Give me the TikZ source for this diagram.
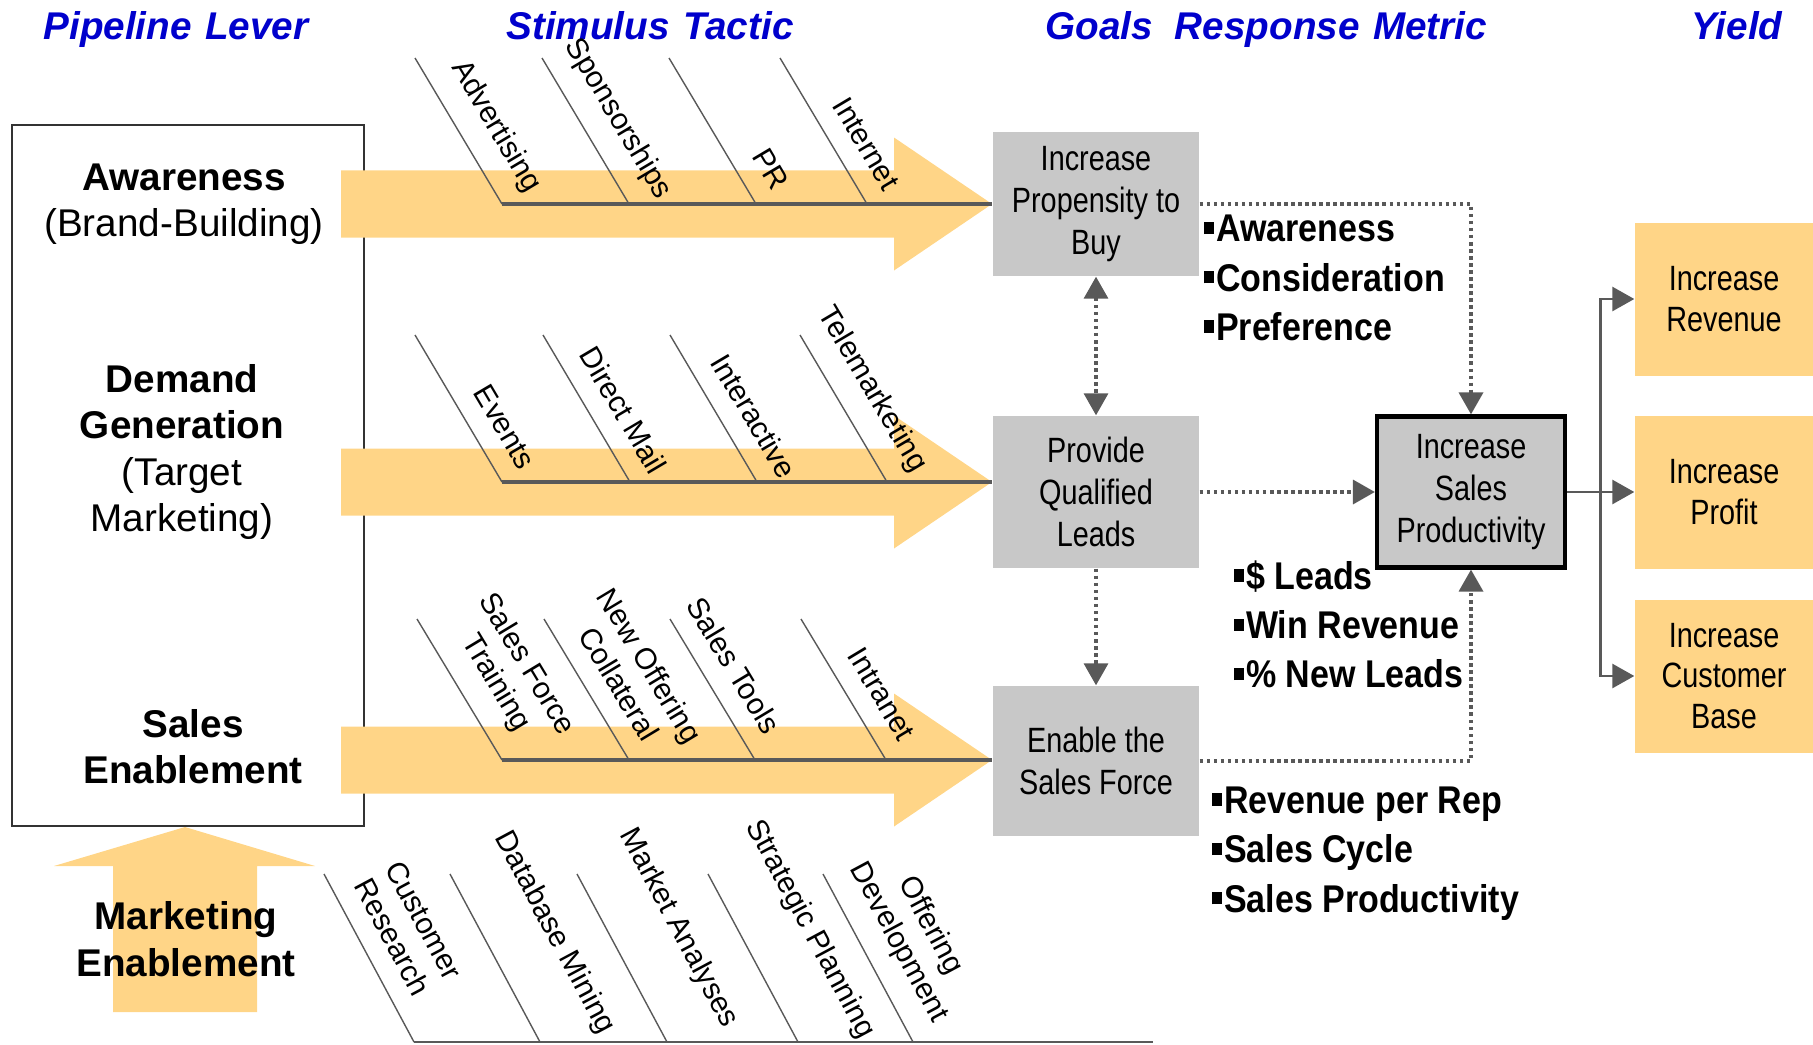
\documentclass[tikz,border=0pt]{standalone}
\usepackage{fontspec}
\setmainfont{Liberation Sans}
\newfontfamily\narrowfont[FakeStretch=0.82]{Liberation Sans}
\newfontfamily\metricfont[FakeStretch=0.88]{Liberation Sans}
\usetikzlibrary{arrows.meta, calc, positioning}

\definecolor{leverorange}{HTML}{FFD587}
\definecolor{goalgray}{HTML}{C8C8C8}
\definecolor{linkgray}{HTML}{595959}
\definecolor{headblue}{HTML}{0000CC}
\newcommand{\sqbul}{\rule[0.2em]{0.26em}{0.32em}\kern0.06em}

\begin{document}
\begin{tikzpicture}[on grid, >={Triangle[length=2.2mm, width=2.4mm]},
  colhead/.style={anchor=base, text=headblue, font=\bfseries\itshape\fontsize{11}{13}\selectfont},
  lever/.style={align=center, font=\fontsize{11}{13.2}\selectfont},
  goal/.style={fill=goalgray, inner sep=0pt, minimum width=2.06cm, minimum height=1.5cm, align=center, font=\narrowfont\fontsize{10}{12}\selectfont},
  yieldbox/.style={fill=leverorange, inner sep=0pt, minimum width=1.78cm, minimum height=1.53cm, align=center, font=\narrowfont\fontsize{10}{11.5}\selectfont},
  metric/.style={anchor=west, inner sep=0pt, align=left, font=\metricfont\bfseries\fontsize{11}{14}\selectfont},
  tactic/.style={sloped, anchor=south west, inner xsep=1pt, inner ysep=5.5pt, align=center, font=\fontsize{8.5}{10.2}\selectfont},
  raised/.style={inner ysep=14pt},
  bone/.style={draw=black!65, line width=0.4pt},
  spine/.style={draw=linkgray, line width=0.9pt},
  lever arrow/.style={fill=leverorange},
  link/.style={draw=linkgray, line width=1pt, dash pattern=on 1pt off 1pt},
  feed/.style={draw=linkgray, line width=0.8pt}
]
  \useasboundingbox (0,0) rectangle (18.13,10.44);

  \node[colhead] (h1) at (1.76,10.04) {Pipeline\hspace{0.35em}Lever};
  \node[colhead] (h2) at (6.50,10.04) {Stimulus\hspace{0.35em}Tactic};
  \node[colhead] (h3) at (10.99,10.04) {Goals};
  \node[colhead] (h4) at (13.31,10.04) {Response\hspace{0.35em}Metric};
  \node[colhead] (h5) at (17.37,10.04) {Yield};

  \node[draw=black!80, line width=0.6pt, inner sep=0pt, minimum width=3.52cm, minimum height=7.01cm] (lbox) at (1.88,5.685) {};
  \node[lever] (aw) at (1.84,8.40) {\textbf{Awareness}\\(Brand-Building)};
  \node[lever] (dg) at (1.82,5.92) {\textbf{Demand}\\\textbf{Generation}\\(Target\\Marketing)};
  \node[lever] (se) at (1.93,2.975) {\textbf{Sales}\\\textbf{Enablement}};

  \node[goal, minimum height=1.44cm] (g1) at (10.96,8.40) {Increase\\Propensity to\\Buy};
  \node[goal, minimum height=1.52cm] (g2) [below=2.88cm of g1] {Provide\\Qualified\\Leads};
  \node[goal] (g3) [below=2.69cm of g2] {Enable the\\Sales Force};
  \node[goal, draw=black, line width=1.2pt, minimum width=1.88cm, minimum height=1.51cm] (sp) [right=3.75cm of g2] {Increase\\Sales\\Productivity};
  \node[yieldbox] (y2) [right=2.53cm of sp] {Increase\\Profit};
  \node[yieldbox] (y1) [above=1.93cm of y2] {Increase\\Revenue};
  \node[yieldbox] (y3) [below=1.84cm of y2] {Increase\\Customer\\Base};

  \fill[lever arrow, yshift=8.40cm] (3.41,-0.335) -| (8.94,-0.665) -- (9.92,0) -- (8.94,0.665) |- (3.41,0.335) -- cycle;
  \fill[lever arrow, yshift=5.62cm] (3.41,-0.335) -| (8.94,-0.665) -- (9.92,0) -- (8.94,0.665) |- (3.41,0.335) -- cycle;
  \fill[lever arrow, yshift=2.84cm] (3.41,-0.335) -| (8.94,-0.665) -- (9.92,0) -- (8.94,0.665) |- (3.41,0.335) -- cycle;
  \fill[lever arrow] (1.13,0.32) -- (1.13,1.78) -- (0.54,1.78) -- (1.85,2.17) -- (3.15,1.78) -- (2.57,1.78) -- (2.57,0.32) -- cycle;
  \node[lever] (me) at (1.86,1.05) {\textbf{Marketing}\\\textbf{Enablement}};

  \path (5.02,8.40) coordinate (a1) (6.29,8.40) coordinate (a2) (7.56,8.40) coordinate (a3) (8.67,8.40) coordinate (a4);
  \path (5.02,5.62) coordinate (b1) (6.30,5.62) coordinate (b2) (7.57,5.62) coordinate (b3) (8.87,5.62) coordinate (b4);
  \path (5.02,2.84) coordinate (c1) (6.29,2.84) coordinate (c2) (7.55,2.84) coordinate (c3) (8.86,2.84) coordinate (c4);
  \path (4.14,0.02) coordinate (d1) (5.40,0.02) coordinate (d2) (6.67,0.02) coordinate (d3) (7.98,0.02) coordinate (d4) (9.13,0.02) coordinate (d5);

  \draw[spine] (a1) -- (a1 -| g1.west);
  \draw[spine] (b1) -- (b1 -| g2.west);
  \draw[spine] (c1) -- (c1 -| g3.west);
  \draw[spine, line width=0.7pt] (d1) -- (11.53,0.02) coordinate (dend);

  \draw[bone] (a1) ++(-0.87,1.46) -- (a1) node[tactic, pos=0.13] (t-adv) {Advertising};
  \draw[bone] (a2) ++(-0.87,1.46) -- (a2) node[tactic, pos=-0.02] (t-spo) {Sponsorships};
  \draw[bone] (a3) ++(-0.87,1.46) -- (a3) node[tactic, pos=0.72] (t-pr) {PR};
  \draw[bone] (a4) ++(-0.87,1.46) -- (a4) node[tactic, pos=0.37] (t-int) {Internet};

  \draw[bone] (b1) ++(-0.87,1.47) -- (b1) node[tactic, pos=0.44] (t-evt) {Events};
  \draw[bone] (b2) ++(-0.87,1.47) -- (b2) node[tactic, pos=0.18] (t-dm) {Direct Mail};
  \draw[bone] (b3) ++(-0.87,1.47) -- (b3) node[tactic, pos=0.23] (t-ia) {Interactive};
  \draw[bone] (b4) ++(-0.87,1.47) -- (b4) node[tactic, pos=-0.08] (t-tm) {Telemarketing};

  \draw[bone] (c1) ++(-0.85,1.41) -- (c1) node[tactic, pos=0.07] (t-sft) {Sales Force\\Training};
  \draw[bone] (c2) ++(-0.85,1.41) -- (c2) node[tactic, pos=0.02] (t-noc) {New Offering\\Collateral};
  \draw[bone] (c3) ++(-0.85,1.41) -- (c3) node[tactic, pos=-0.05] (t-st) {Sales Tools};
  \draw[bone] (c4) ++(-0.85,1.41) -- (c4) node[tactic, pos=0.31] (t-ina) {Intranet};

  \draw[bone] (d1) ++(-0.90,1.68) -- (d1) node[tactic, pos=0.10] (t-cr) {Customer\\Research};
  \draw[bone] (d2) ++(-0.90,1.68) -- (d2) node[tactic, raised, pos=-0.08] (t-db) {Database Mining};
  \draw[bone] (d3) ++(-0.90,1.68) -- (d3) node[tactic, raised, pos=-0.10] (t-ma) {Market Analyses};
  \draw[bone] (d4) ++(-0.90,1.68) -- (d4) node[tactic, raised, pos=-0.15] (t-sp) {Strategic Planning};
  \draw[bone] (d5) ++(-0.90,1.68) -- (d5) node[tactic, pos=0.02] (t-od) {Offering\\Development};

  \node[metric] (m1) at (12.03,7.66) {\sqbul Awareness\\\sqbul Consideration\\\sqbul Preference};
  \node[metric] (m2) at (12.33,4.195) {\sqbul\$ Leads\\\sqbul Win Revenue\\\sqbul\% New Leads};
  \node[metric] (m3) at (12.11,1.905) {\sqbul Revenue per Rep\\\sqbul Sales Cycle\\\sqbul Sales Productivity};

  \draw[link, <->] (g1) -- (g2);
  \draw[link, ->] (g2) -- (g3);
  \draw[link, ->] (g1.east) -| (sp.north);
  \draw[link, ->] (g2.east) -- (sp.west);
  \draw[link, ->] (g3.east) -| (sp.south);

  \coordinate (jn) at ($(sp.east)!0.5!(y2.west)$);
  \draw[feed, ->] (sp.east) -- (y2.west);
  \draw[feed, ->] (jn) |- (y1.west);
  \draw[feed, ->] (jn) |- (y3.west);
\end{tikzpicture}
\end{document}
